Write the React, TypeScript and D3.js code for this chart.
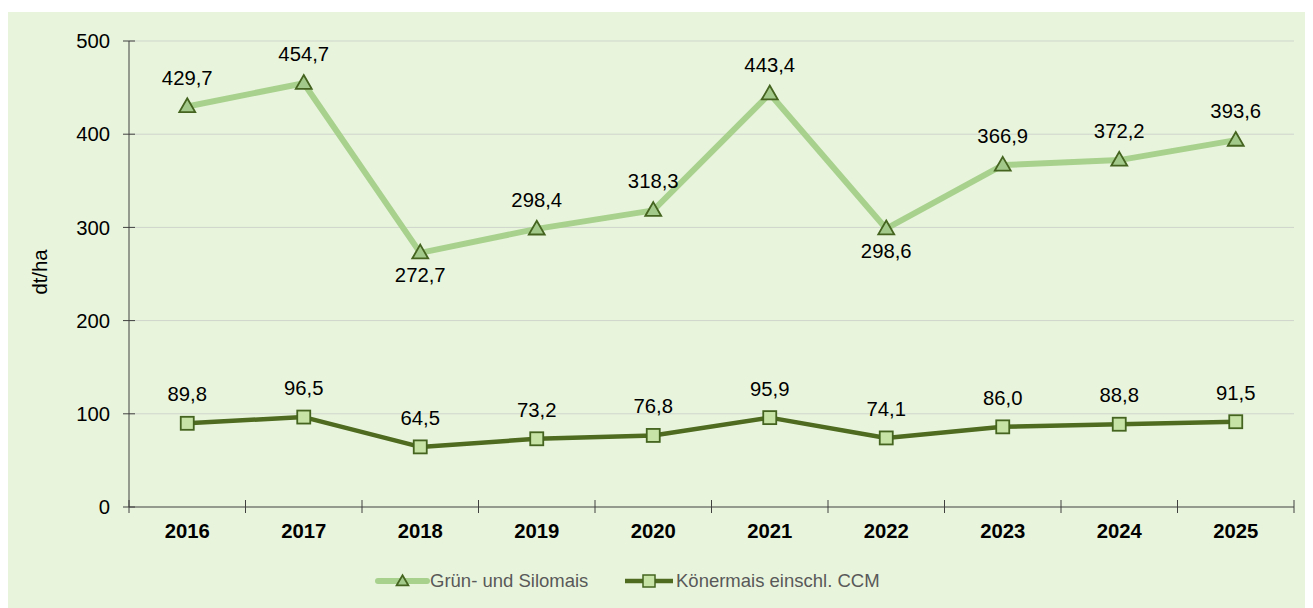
import React from "react";
import * as d3 from "d3";

const years = ["2016", "2017", "2018", "2019", "2020", "2021", "2022", "2023", "2024", "2025"];
const silomais = [429.7, 454.7, 272.7, 298.4, 318.3, 443.4, 298.6, 366.9, 372.2, 393.6];
const koernermais = [89.8, 96.5, 64.5, 73.2, 76.8, 95.9, 74.1, 86.0, 88.8, 91.5];
const yTicks = [0, 100, 200, 300, 400, 500];
const seriesNames = ["Grün- und Silomais", "Könermais einschl. CCM"];
const belowLabels = ["2018", "2022"];

const W = 1305;
const H = 600;
const left = 121;
const right = 1286;
const top = 33;
const bottom = 499;

export default function App() {
  const x = d3.scaleBand<string>().domain(years).range([left, right]);
  const y = d3.scaleLinear().domain([0, 500]).range([bottom, top]);
  const cx = (d: string) => (x(d) as number) + x.bandwidth() / 2;
  const line = d3.line<number>().x((_, i) => cx(years[i])).y((v) => y(v));
  const fmt = (v: number) => v.toFixed(1).replace(".", ",");
  const tri = d3.symbol().type(d3.symbolTriangle).size(110);
  const font = "Liberation Sans, Arial, sans-serif";
  const fs = 20.3;
  const lightGreen = "#a9d18e";
  const darkGreen = "#4e6b1f";
  const triFill = "#a3c98a";
  const triStroke = "#44641f";
  const sqFill = "#c7e3a6";
  const sqStroke = "#44641f";
  const sq = 13;
  const boundaries = [left, ...years.map((d) => (x(d) as number) + x.bandwidth())];

  return (
    <svg width={W} height={H} style={{ display: "block" }}>
      <rect x={0} y={4} width={W} height={H - 4} fill="#e8f5dc" />
      {yTicks.map((t) => (
        <g key={t}>
          {t > 0 && <line x1={left} x2={right} y1={y(t)} y2={y(t)} stroke="#cfd4cc" strokeWidth={1} />}
          <line x1={left - 6} x2={left + 6} y1={y(t)} y2={y(t)} stroke="#404040" strokeWidth={1} />
          <text x={left - 19} y={y(t)} dy="0.35em" textAnchor="end" fontFamily={font} fontSize={fs} fill="#000">
            {t}
          </text>
        </g>
      ))}
      <line x1={left} x2={left} y1={top} y2={bottom} stroke="#404040" strokeWidth={1} />
      <line x1={left} x2={right} y1={bottom} y2={bottom} stroke="#404040" strokeWidth={1} />
      {boundaries.map((b, i) => (
        <line key={i} x1={b} x2={b} y1={bottom - 7} y2={bottom + 6} stroke="#404040" strokeWidth={1} />
      ))}
      {years.map((d) => (
        <text key={d} x={cx(d)} y={530} textAnchor="middle" fontFamily={font} fontSize={fs} fontWeight="bold" fill="#000">
          {d}
        </text>
      ))}
      <text
        transform={`translate(32,264) rotate(-90)`}
        textAnchor="middle"
        dy="0.35em"
        fontFamily={font}
        fontSize={fs}
        fill="#000"
      >
        dt/ha
      </text>

      <path d={line(silomais) || ""} fill="none" stroke={lightGreen} strokeWidth={6} strokeLinejoin="round" />
      <path d={line(koernermais) || ""} fill="none" stroke={darkGreen} strokeWidth={4.5} strokeLinejoin="round" />

      {silomais.map((v, i) => (
        <g key={"s" + i}>
          <path d={tri() || ""} transform={`translate(${cx(years[i])},${y(v) + 1})`} fill={triFill} stroke={triStroke} strokeWidth={1.8} />
          <text
            x={cx(years[i])}
            y={belowLabels.includes(years[i]) ? y(v) + 29 : y(v) - 22}
            textAnchor="middle"
            fontFamily={font}
            fontSize={fs}
            fill="#000"
          >
            {fmt(v)}
          </text>
        </g>
      ))}
      {koernermais.map((v, i) => (
        <g key={"k" + i}>
          <rect x={cx(years[i]) - sq / 2} y={y(v) - sq / 2} width={sq} height={sq} fill={sqFill} stroke={sqStroke} strokeWidth={1.8} />
          <text x={cx(years[i])} y={y(v) - 22} textAnchor="middle" fontFamily={font} fontSize={fs} fill="#000">
            {fmt(v)}
          </text>
        </g>
      ))}

      {/* legend */}
      <g>
        <line x1={370} x2={419} y1={573} y2={573} stroke={lightGreen} strokeWidth={6} strokeLinecap="round" />
        <path d={d3.symbol().type(d3.symbolTriangle).size(60)() || ""} transform="translate(394.5,574)" fill={triFill} stroke={triStroke} strokeWidth={1.8} />
        <text x={422} y={573} dy="0.35em" fontFamily={font} fontSize={18.5} fill="#595959">
          {seriesNames[0]}
        </text>
        <line x1={617} x2={665} y1={573} y2={573} stroke={darkGreen} strokeWidth={4.5} />
        <rect x={641 - 6} y={573 - 6} width={12} height={12} fill={sqFill} stroke={sqStroke} strokeWidth={1.5} />
        <text x={668} y={573} dy="0.35em" fontFamily={font} fontSize={18.5} fill="#595959">
          {seriesNames[1]}
        </text>
      </g>
    </svg>
  );
}
